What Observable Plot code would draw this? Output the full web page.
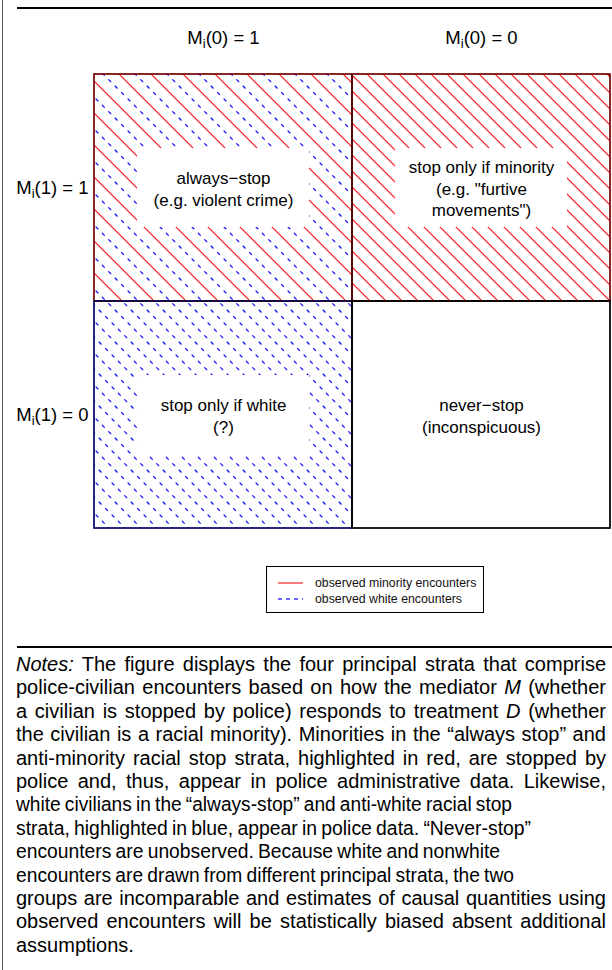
<!DOCTYPE html>
<html><head><meta charset="utf-8">
<script src="https://cdn.jsdelivr.net/npm/d3@7"></script>
<script src="https://cdn.jsdelivr.net/npm/@observablehq/plot@0.6"></script>
<style>
body{margin:0;background:#fff;font-family:"Liberation Sans",Arial,sans-serif;color:#000;}
#wrap{position:relative;width:612px;height:970px;overflow:hidden;background:#fff;}
#vline{position:absolute;left:2px;top:0;width:1.3px;height:970px;background:#555;z-index:5;}
.rule{position:absolute;left:17px;width:595px;height:2px;background:#000;z-index:5;}
#chart{position:absolute;left:0;top:0;}
#legend{position:absolute;left:266px;top:566px;width:216px;height:45px;border:1px solid #000;background:#fff;}
#notes{position:absolute;left:16px;top:653px;width:640px;font-size:20px;line-height:23.4px;}
.nl{white-space:nowrap;height:23.4px;}
.nl span{display:inline-block;transform-origin:0 50%;}
</style></head>
<body><div id="wrap">
<div id="chart"></div>
<div id="legend"></div>
<div id="notes"></div>
<div id="vline"></div>
<div class="rule" style="top:7px"></div>
<div class="rule" style="top:646px"></div>
</div>
<script>
// ---- data ----
const colLabels = ["M_i(0) = 1", "M_i(0) = 0"];
const rowLabels = ["M_i(1) = 1", "M_i(1) = 0"];
const cellCol = [0, 1, 0, 1];
const cellRow = [0, 0, 1, 1];
const cellText = [
  "always\u2212stop\n(e.g. violent crime)",
  "stop only if minority\n(e.g. \"furtive\nmovements\")",
  "stop only if white\n(?)",
  "never\u2212stop\n(inconspicuous)"
];
const cellHatch = ["both", "red", "blue", "none"];
const legendLabels = ["observed minority encounters", "observed white encounters"];
const legendColors = ["#ff0000", "#0000ff"];
const legendDash = [null, "4,4"];
const noteLines = [
  "<i>Notes:</i> The figure displays the four principal strata that comprise",
  "police-civilian encounters based on how the mediator <i>M</i> (whether",
  "a civilian is stopped by police) responds to treatment <i>D</i> (whether",
  "the civilian is a racial minority). Minorities in the \u201calways stop\u201d and",
  "anti-minority racial stop strata, highlighted in red, are stopped by",
  "police and, thus, appear in police administrative data. Likewise,",
  "white civilians in the \u201calways-stop\u201d and anti-white racial stop",
  "strata, highlighted in blue, appear in police data. \u201cNever-stop\u201d",
  "encounters are unobserved. Because white and nonwhite",
  "encounters are drawn from different principal strata, the two",
  "groups are incomparable and estimates of causal quantities using",
  "observed encounters will be statistically biased absent additional",
  "assumptions."
];
// right end (px from the notes' left edge) of each typeset line; null = natural width
const noteLineEnds = [590, 590, 590, 590, 590, 590, 496, 515, 484, 498, 590, 590, null];

// ---- table ----
const cells = cellText.map((t, i) => ({
  col: colLabels[cellCol[i]], row: rowLabels[cellRow[i]], text: t, hatch: cellHatch[i]
}));
const hatchFill = {both: "url(#hatchBoth)", red: "url(#hatchRed)", blue: "url(#hatchBlue)", none: "white"};
const hatchEdge = {both: "#d01010", red: "#d01010", blue: "#1010c0", none: "#000"};

const svg = Plot.plot({
  width: 612, height: 540,
  marginLeft: 94, marginRight: 2, marginTop: 73, marginBottom: 12,
  x: {type: "band", domain: colLabels, padding: 0, axis: "top", tickSize: 0, tickPadding: 30, label: null},
  y: {type: "band", domain: rowLabels, padding: 0, tickSize: 0, tickPadding: 6, label: null},
  color: {type: "identity"},
  style: {fontFamily: "'Liberation Sans', Arial, sans-serif", fontSize: "18.5px", color: "#000", background: "white"},
  marks: [
    Plot.cell(cells, {x: "col", y: "row", fill: d => hatchFill[d.hatch]}),
    Plot.cell(cells.filter(d => d.hatch !== "none"), {x: "col", y: "row", fill: "white", insetLeft: 43, insetRight: 43, insetTop: 74, insetBottom: 74}),
    Plot.cell(cells, {x: "col", y: "row", fill: "none", stroke: d => hatchEdge[d.hatch], strokeWidth: 1.6}),
    Plot.cell(cells, {x: "col", y: "row", fill: "none", stroke: "black", strokeWidth: 1, strokeOpacity: 0.75}),
    Plot.text(cells, {x: "col", y: "row", text: "text", fontSize: 17, lineHeight: 1.27, fill: "black"})
  ]
});

// hatch patterns
const defs = d3.select(svg).insert("defs", ":first-child");
function pattern(id, size, lines) {
  const p = defs.append("pattern").attr("id", id).attr("patternUnits", "userSpaceOnUse")
    .attr("x", 94).attr("y", 73).attr("width", size).attr("height", size);
  for (const ln of lines) {
    const el = p.append("line")
      .attr("x1", ln.x0 - size).attr("y1", -size)
      .attr("x2", ln.x0 + 2 * size).attr("y2", 2 * size)
      .attr("stroke", ln.color)
      .style("stroke", ln.color)
      .style("stroke-width", ln.sw + "px")
      .style("fill", "none");
    if (ln.dash) el.style("stroke-dasharray", ln.dash);
  }
}
const dashPat = "3.8,5.25";
function family(start, step, color, dash, sw) {
  const out = [];
  for (let x = start - 96; x <= 96; x += step) out.push({x0: x, color, dash, sw});
  return out;
}
pattern("hatchRed", 32, family(0, 16, "rgb(255,0,0)", null, 1.1));
pattern("hatchBlue", 32, family(8, 16, "rgb(0,0,255)", dashPat, 1.2));
pattern("hatchBoth", 32, [...family(8, 32, "rgb(0,0,255)", dashPat, 1.2), ...family(24, 32, "rgb(255,0,0)", null, 1.1)]);

// subscripts in axis labels
d3.select(svg).selectAll("text").each(function() {
  const t = this.textContent;
  if (t.startsWith("M_i")) {
    const rest = t.slice(3);
    this.textContent = "";
    const s = d3.select(this);
    s.append("tspan").text("M");
    s.append("tspan").attr("dy", 4).attr("font-size", "13px").text("i");
    s.append("tspan").attr("dy", -4).text(rest);
  }
});
document.getElementById("chart").appendChild(svg);

// legend
const lg = d3.select("#legend").append("svg").attr("width", 216).attr("height", 45);
legendLabels.forEach((lab, i) => {
  const y = 16 + i * 16;
  lg.append("line").attr("x1", 11).attr("x2", 36).attr("y1", y).attr("y2", y)
    .attr("stroke", legendColors[i]).attr("stroke-width", 1.3)
    .attr("stroke-opacity", 0.8)
    .attr("stroke-dasharray", legendDash[i]);
  lg.append("text").attr("x", 48).attr("y", y).attr("dy", "0.35em")
    .attr("font-size", 12.3).attr("fill", "#111")
    .attr("font-family", "'Liberation Sans', Arial, sans-serif").text(lab);
});

// notes
const notes = d3.select("#notes");
noteLines.forEach((html, i) => {
  const span = notes.append("div").attr("class", "nl").append("span").html(html);
  const target = noteLineEnds[i];
  if (target == null) return;
  const node = span.node();
  const n = (node.textContent.match(/ /g) || []).length;
  let w = node.getBoundingClientRect().width;
  let ws = (target - w) / n;
  ws = Math.max(-1.2, Math.min(4, ws));
  span.style("word-spacing", ws + "px");
  w = node.getBoundingClientRect().width;
  if (Math.abs(target - w) > 0.5) span.style("transform", `scaleX(${target / w})`);
});
</script>
</body></html>
